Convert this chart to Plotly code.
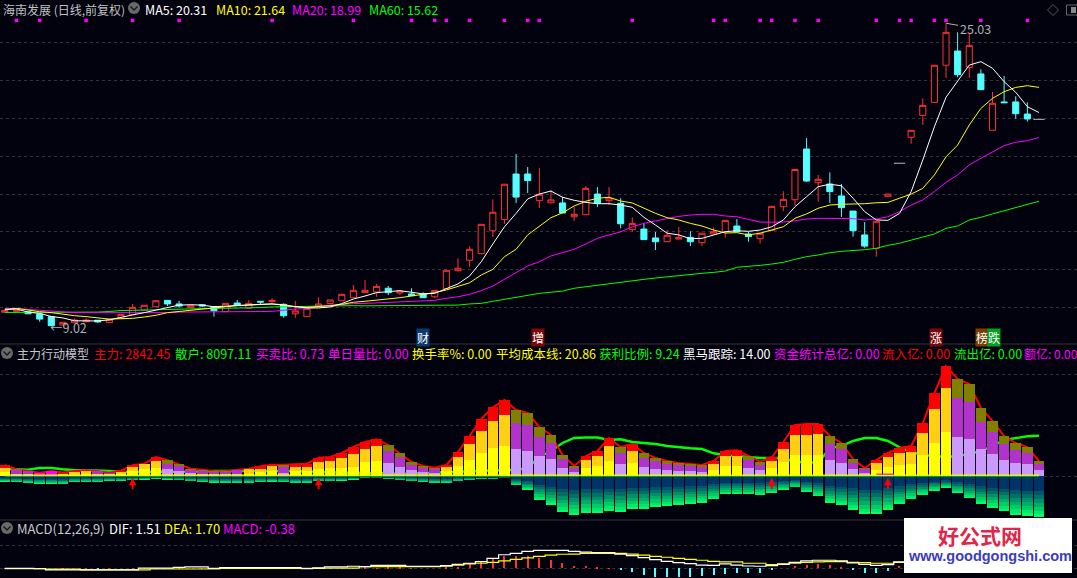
import plotly.graph_objects as go

WIDTH, HEIGHT = 1077, 578
BG = "#02020F"
RED, CYAN = "#FF3232", "#54FFFF"
LIME = "#00FF00"
GRID = "#333333"

# ---------- price panel ----------
opens = [9.75,9.80,9.78,9.66,9.52,9.08,9.20,9.25,9.33,9.20,
         9.43,9.62,9.87,10.04,10.38,10.19,10.01,10.15,10.05,9.78,
         10.24,9.96,10.33,10.31,10.17,9.67,9.52,10.07,10.22,10.36,
         10.52,10.79,10.82,11.02,10.77,10.72,10.72,10.57,11.00,11.95,
         12.50,12.85,14.06,14.65,17.06,17.06,15.65,15.54,15.53,14.80,
         14.91,16.00,15.65,15.51,14.12,14.15,13.68,13.48,13.62,13.71,
         13.43,13.89,14.01,14.31,13.89,13.64,14.08,15.33,15.70,18.38,
         16.60,16.53,15.90,15.10,13.84,13.13,15.88,17.63,19.00,20.16,
         20.85,22.81,23.56,22.70,22.35,19.37,20.87,20.87,20.23,19.95]
highs = [9.85,9.90,9.78,9.66,9.55,9.22,9.43,9.43,9.33,9.38,
         9.64,10.19,10.12,10.36,10.38,10.35,10.12,10.15,10.05,10.22,
         10.40,10.40,10.33,10.50,10.22,10.35,9.96,10.54,10.40,10.70,
         11.19,11.46,11.25,11.14,10.93,11.02,10.81,10.91,11.97,12.60,
         13.24,14.40,15.72,16.52,18.12,17.43,17.38,16.21,15.86,15.33,
         16.43,16.37,16.37,15.78,14.77,14.42,13.99,14.10,14.26,14.03,
         13.93,14.24,14.61,14.68,14.01,13.93,15.35,16.15,17.30,18.96,
         17.01,17.15,16.53,15.10,14.52,14.56,16.00,17.63,19.37,21.06,
         22.81,25.03,24.55,24.53,22.60,21.40,22.24,21.17,20.85,19.95]
lows = [9.75,9.78,9.67,9.25,9.02,9.06,9.20,9.25,9.20,9.20,
        9.43,9.62,9.82,10.04,10.08,9.99,10.01,10.03,9.52,9.78,
        10.12,9.96,10.13,10.26,9.46,9.46,9.52,10.07,10.22,10.36,
        10.52,10.79,10.57,10.66,10.66,10.63,10.52,10.50,11.00,11.90,
        12.14,12.85,13.73,14.42,15.53,16.06,15.26,15.51,15.00,14.58,
        14.91,15.32,15.42,14.19,14.01,13.59,13.04,13.48,13.62,13.25,
        13.25,13.89,13.69,14.01,13.48,13.38,14.05,15.10,15.39,16.64,
        15.60,15.53,14.79,13.75,13.16,12.69,15.88,17.63,18.66,19.65,
        20.85,22.14,22.17,22.14,21.52,19.37,20.83,19.98,19.83,19.95]
closes = [9.85,9.87,9.67,9.39,9.04,9.22,9.34,9.34,9.24,9.38,
          9.64,10.01,10.12,10.36,10.19,10.08,10.12,10.08,9.83,10.22,
          10.12,10.22,10.29,10.38,9.57,9.82,9.96,10.19,10.40,10.70,
          10.91,10.91,11.12,10.79,10.87,10.63,10.52,10.91,11.97,12.08,
          13.08,14.40,15.04,16.52,15.84,16.71,15.99,15.69,15.00,14.93,
          16.30,15.51,15.79,14.43,14.45,13.59,13.48,13.82,13.71,13.48,
          13.93,14.01,14.61,14.01,13.75,13.93,15.35,15.72,17.30,16.69,
          16.78,16.13,15.28,14.06,13.25,14.56,16.00,17.63,19.37,20.69,
          22.81,24.55,22.31,23.86,21.52,20.80,20.83,20.25,19.97,19.95]
ma5 = [9.91,9.92,9.76,9.69,9.53,9.45,9.30,9.29,9.29,9.35,
       9.46,9.61,9.73,9.87,10.03,10.13,10.15,10.13,10.04,10.08,
       10.10,10.13,10.17,10.19,10.13,10.03,9.98,9.98,10.03,10.21,
       10.45,10.61,10.79,10.84,10.89,10.81,10.72,10.75,11.02,11.25,
       11.67,12.42,13.36,14.27,14.98,15.74,16.00,16.16,15.83,15.67,
       15.56,15.49,15.49,15.42,15.30,14.77,14.36,13.93,13.84,13.64,
       13.66,13.84,14.01,14.06,14.03,14.10,14.27,14.63,15.33,15.86,
       16.39,16.52,16.44,15.78,15.07,14.63,14.61,14.98,16.13,17.80,
       19.56,21.12,21.94,22.82,23.00,22.65,21.94,21.38,20.62,20.31]
ma10 = [9.87,9.96,9.87,9.78,9.73,9.64,9.57,9.52,9.46,9.39,
        9.41,9.43,9.50,9.59,9.73,9.80,9.87,9.92,9.98,10.04,
        10.10,10.12,10.17,10.19,10.15,10.04,10.01,10.04,10.10,10.17,
        10.28,10.33,10.38,10.44,10.52,10.61,10.70,10.79,10.93,11.10,
        11.31,11.72,12.02,12.69,13.08,13.84,14.31,14.75,15.01,15.37,
        15.62,15.78,15.83,15.63,15.53,15.25,14.98,14.75,14.63,14.45,
        14.31,14.10,13.94,13.96,13.84,13.93,14.10,14.27,14.72,14.95,
        15.25,15.42,15.46,15.46,15.49,15.54,15.56,15.78,16.00,16.30,
        17.01,17.97,18.59,19.65,20.53,21.06,21.41,21.64,21.73,21.64]
ma20 = [9.95,9.95,9.90,9.85,9.82,9.78,9.73,9.73,9.73,9.71,
        9.71,9.70,9.70,9.71,9.73,9.76,9.76,9.76,9.76,9.76,
        9.76,9.79,9.79,9.80,9.87,9.92,9.95,10.03,10.13,10.15,
        10.21,10.22,10.24,10.28,10.29,10.31,10.35,10.38,10.49,10.57,
        10.70,10.89,11.14,11.49,11.81,12.20,12.42,12.73,12.90,13.08,
        13.36,13.66,13.84,14.00,14.27,14.45,14.58,14.72,14.82,14.89,
        14.93,14.93,14.84,14.80,14.68,14.52,14.51,14.52,14.59,14.68,
        14.72,14.72,14.72,14.70,14.63,14.68,14.80,15.07,15.42,15.69,
        16.13,16.62,17.01,17.54,17.89,18.24,18.56,18.74,18.82,18.99]
ma60 = [9.74,9.74,9.76,9.76,9.76,9.76,9.76,9.76,9.76,9.79,
        9.84,9.85,9.87,9.90,9.91,9.92,9.94,9.96,9.96,9.96,
        9.96,9.98,10.00,10.03,10.03,10.03,10.06,10.08,10.10,10.10,
        10.10,10.09,10.09,10.09,10.09,10.09,10.09,10.09,10.10,10.13,
        10.19,10.22,10.33,10.44,10.54,10.66,10.75,10.81,10.87,11.02,
        11.10,11.18,11.28,11.37,11.44,11.49,11.56,11.63,11.68,11.76,
        11.81,11.86,11.93,12.13,12.16,12.23,12.30,12.39,12.55,12.69,
        12.78,12.90,12.97,13.00,13.06,13.13,13.29,13.40,13.57,13.71,
        13.89,14.19,14.31,14.63,14.77,14.95,15.12,15.25,15.42,15.62]
signal_days = [1,3,7,11,15,23,30,35,37,38,40,43,45,46,54,61,62,65,66,68,70,75,77,78,80,81,84,88]
signal_level = 25.18
price_grid = [10,12,14,16,18,20,22,24]

# ---------- main-force panel ----------
stack_kind = [0,1,1,2,2,0,0,0,1,1,
              0,0,0,0,1,1,1,1,1,1,
              1,0,0,0,1,0,0,0,0,0,
              0,0,0,1,1,1,1,1,0,0,
              0,0,0,0,1,1,1,1,1,1,
              0,0,0,1,0,1,1,1,1,1,
              1,0,0,0,1,1,0,0,0,0,
              0,1,1,1,1,0,0,0,0,0,
              0,0,1,1,1,1,1,1,1,1]
stack_low = [4,2.3,2.3,3.3,5,0.7,0.7,1.3,2.3,1.7,
             1.7,4.7,6.7,8,6.7,5,3,2.3,1.7,1.7,
             1.7,2.3,4,5,3.3,5,5,6.7,8.3,8.3,
             9,14,15,13,9,6,3.7,2.7,5,10,
             16,23,28,30,27,25,20,17,8,4,
             8,10,15,12,13,9,7,6,5,5,
             4,6,10,10,8,6,8,14,21,21,
             21,16,13,7,2.7,6,9,11,12,21,
             33,44,39,37,27,22,16,13,12,6]
stack_mid = [8.3,6,5,3.3,5,1.7,3.7,4.7,4.7,3.3,
             4,9,11.7,15,12.3,10,6.3,5,4,4.3,
             5.7,7,7.3,9.7,9,9,9,14,15,18.3,
             22.3,27,30,25,18.7,10.7,8,7.3,8.7,19,
             32,45,55,61,52.7,50.7,39,33,17,8,
             16,20,30,22.7,25,18,15,12,11,10,
             9,12,20,20,16,10.7,15,27,41,41,
             42,32,27,13,7,13,19,23,24,43,
             67,88,78,74,54,44,32,26,23,12]
stack_top = [10.7,6.7,5,3.3,5,3.5,5,5.7,4.7,3.3,
             5.3,10.7,12.3,19,15.7,11.7,7.3,6.3,4.7,4.7,
             6,7.3,9.7,11.3,11.3,11.7,12.3,18.3,19,23,
             29,34,36.7,31,22.7,14,10,8.3,11,24,
             40,57,68.7,76,66,63,49,41,21,10,
             20,25,38,29,32,23,18,15,13,12,
             11,15,25,25.7,20,14.3,18.7,34,51,52,
             52,40,33,17,8,16,23,28,30,53,
             83,110,97,92,68,55,40,33,29,15]
retail_line = [7,6.7,6.3,8,8,6.7,5.7,5.7,5.7,5,
               4,4,4,4,4,4,4,4.5,5,5,
               5.5,5.5,5,5,5,5,4.5,4,4,3.5,
               3,3,3,2.5,2,2.5,2.5,3,4,4,
               5,5,6,6,6,8,19,25,33,38,
               38.5,38.5,36,36.7,34,33,32,30,28.7,27.7,
               27,22.7,21,20,19,18,18,18,14,14,
               13,28,30,35,38,38,35,28.7,24,21,
               20,19,20,22,25,30,36,37.7,39.7,40.3]
retail_depth = [5.7,6,7,8,8,8.3,6.3,6.3,6.3,5,
                5,4.3,3.7,2.7,3.7,4.3,5.3,6.3,6.7,7,
                7,7.3,6,5.7,6.3,7,7,5.3,5.3,4.7,
                3.7,1.7,2,3.3,4.3,5.3,6.3,7,7,5.3,
                4.3,3.3,3.3,2.3,9.3,14.3,24.3,29.3,36.3,39.3,
                37.3,37.3,35.3,36.3,33.3,33.3,31.3,30.3,29.3,28.3,
                27.3,23.3,18.3,18.3,18.3,19.3,17.3,14.3,11.3,16.3,
                20.3,27.3,29.3,34.3,38.3,38.3,34.3,28.3,23.3,19.3,
                15.3,12.3,17.3,22.3,28.3,32.3,35.3,39.3,40.3,41.3]
buy_days = [11,27,66,76]
model_grid = [0,51,102]

# ---------- MACD panel ----------
dif = [0,0,0,-.04,-.14,-.14,-.14,-.14,-.14,-.14,
       -.14,-.14,.02,.02,.02,.08,.12,.12,0,.06,
       .06,.06,.06,.06,.06,.06,-.02,.04,.12,.12,
       .18,.14,.26,.26,.26,.18,.18,.18,.24,.34,
       .44,.58,.86,1.18,1.30,1.48,1.56,1.56,1.56,1.48,
       1.40,1.36,1.36,1.24,1.10,.92,.76,.60,.50,.40,
       .28,.26,.38,.28,.20,.18,.24,.34,.52,.64,
       .70,.70,.64,.46,.34,.26,.32,.56,.90,1.20,
       1.50,1.75,1.90,2.00,1.95,1.85,1.75,1.65,1.58,1.51]
dea = [-.02,-.02,-.02,-.02,-.08,-.08,-.08,-.14,-.14,-.14,
       -.14,-.14,-.14,-.06,-.06,-.06,-.06,-.06,-.06,0,
       0,0,0,0,0,0,0,0,.02,.02,
       .02,.14,.14,.14,.14,.14,.14,.14,.18,.28,
       .38,.44,.52,.64,.78,.90,1.04,1.14,1.22,1.24,
       1.30,1.30,1.30,1.30,1.24,1.14,1.04,.96,.86,.78,
       .70,.60,.56,.56,.44,.44,.32,.38,.44,.52,
       .56,.58,.58,.52,.50,.44,.44,.52,.60,.72,
       .88,1.05,1.20,1.35,1.48,1.56,1.62,1.66,1.69,1.70]
macd = [.02,0,-.02,-.02,0,.02,0,.02,-.02,.02,
        0,.02,0,.02,0,.02,0,.02,.02,.02,
        0,.02,.02,-.02,.02,.02,0,.02,.02,.02,
        .02,.06,.02,.04,.04,.02,0,0,.04,.14,
        .38,.58,.80,1.10,1.06,1.10,.90,.72,.46,.20,
        .20,.12,.02,-.08,-.28,-.58,-.78,-.78,-.78,-.78,
        -.66,-.58,-.50,-.38,-.38,-.38,-.08,0,.20,.28,
        .34,.28,.12,-.14,-.38,-.38,-.20,.20,.50,.90,
        1.20,1.40,1.40,1.30,.90,.50,.20,0,-.20,-.38]
macd_grid = [0,2]

# ---------- legend text ----------
title_stock = "海南发展 (日线,前复权)"
legend_top = [("MA5: 20.31", 145, "#FFFFFF"), ("MA10: 21.64", 216, "#FFFF00"),
              ("MA20: 18.99", 292, "#FF00FF"), ("MA60: 15.62", 369, "#00FF00")]
legend_model = [("主力: 2842.45", 94, "#FF0000"), ("散户: 8097.11", 175, "#00FF00"),
                ("买卖比: 0.73", 256, "#FF00FF"), ("单日量比: 0.00", 328, "#FF00FF"),
                ("换手率%: 0.00", 412, "#FFFF00"), ("平均成本线: 20.86", 496, "#FFFF00"),
                ("获利比例: 9.24", 599, "#00FF00"), ("黑马跟踪: 14.00", 683, "#FFFFFF"),
                ("资金统计总亿: 0.00", 774, "#FF00FF"), ("流入亿: 0.00", 882, "#FF0000"),
                ("流出亿: 0.00", 954, "#00FF00")]
legend_last = ("额亿: 0.00", 1024, "#FF00FF")
legend_macd = [("MACD(12,26,9)", 17, "#C8C8C8"), ("DIF: 1.51", 109, "#FFFFFF"),
               ("DEA: 1.70", 164, "#FFFF00"), ("MACD: -0.38", 223, "#FF00FF")]
badges = [("财", 423, "#0B3A70"), ("增", 538, "#7A0A0A"), ("涨", 936, "#7A0A0A"),
          ("榜", 981.5, "#7A3E00"), ("跌", 994, "#00A020")]

# ---------- layout helpers ----------
def px(x): return x / WIDTH
def py(y): return 1 - y / HEIGHT
days = list(range(len(opens)))
x_range = [-4.8 / 11.62, (WIDTH - 4.8) / 11.62]
model_range = [-44, 132]
macd_range = [-9.7 / 11.5, 48.3 / 11.5]

fig = go.Figure()

# price
normal = [i for i in days if opens[i] != closes[i]]
fig.add_trace(go.Candlestick(
    x=normal, open=[opens[i] for i in normal], high=[highs[i] for i in normal],
    low=[lows[i] for i in normal], close=[closes[i] for i in normal],
    xaxis="x", yaxis="y", whiskerwidth=0,
    increasing=dict(line=dict(color=RED, width=1), fillcolor=BG),
    decreasing=dict(line=dict(color=CYAN, width=1), fillcolor=CYAN)))
flat = [i for i in days if opens[i] == closes[i]]
fig.add_trace(go.Scatter(x=flat, y=[closes[i] for i in flat], mode="markers", xaxis="x", yaxis="y",
                         marker=dict(symbol="line-ew", size=8, line=dict(color="#BBBBBB", width=1))))
for series, color in [(ma60, LIME), (ma20, "#FF00FF"), (ma10, "#FFFF00"), (ma5, "#FFFFFF")]:
    fig.add_trace(go.Scatter(x=days, y=series, mode="lines", xaxis="x", yaxis="y",
                             line=dict(color=color, width=1)))
fig.add_trace(go.Scatter(x=signal_days, y=[signal_level] * len(signal_days), mode="markers", xaxis="x", yaxis="y",
                         marker=dict(symbol="square", size=3.5, color="#FF00FF", line=dict(width=0))))

# model: lines beneath the bars
fig.add_trace(go.Scatter(x=days, y=retail_line, mode="lines", xaxis="x2", yaxis="y2",
                         line=dict(color=LIME, width=2.4)))
fig.add_trace(go.Scatter(x=days, y=stack_top, mode="lines", xaxis="x2", yaxis="y2",
                         line=dict(color="#FF0000", width=2)))
palette_low = ["#FFFF00", "#CC99FF", "#FF00FF"]
palette_mid = ["#FFD011", "#B233CC", "#FF00FF"]
palette_top = ["#FF0000", "#808000", "#FF00FF"]
BW = 0.91
for vals, pal in [(stack_top, palette_top), (stack_mid, palette_mid), (stack_low, palette_low)]:
    fig.add_trace(go.Bar(x=days, y=vals, width=BW, xaxis="x2", yaxis="y4",
                         marker=dict(color=[pal[k] for k in stack_kind], line=dict(width=0))))
bands = [(1.0, "#00FF66"), (.93, "#00E868"), (.85, "#00CC66"), (.75, "#00AD66"),
         (.65, "#008F66"), (.55, "#007066"), (.45, "#005566"), (.36, "#003366")]
for frac, color in bands:
    fig.add_trace(go.Bar(x=days, y=[-d * frac for d in retail_depth], width=BW, xaxis="x2", yaxis="y4",
                         marker=dict(color=color, line=dict(width=0))))
# model: baseline above the bars
fig.add_trace(go.Scatter(x=days, y=[0] * len(days), mode="lines", xaxis="x2", yaxis="y5",
                         line=dict(color=LIME, width=1.2)))
fig.add_trace(go.Scatter(x=days, y=[0.9] * len(days), mode="lines", xaxis="x2", yaxis="y5",
                         line=dict(color="#FFFF00", width=1.2)))
fig.add_trace(go.Scatter(x=[75, 76.5], y=[1.8, 1.8], mode="lines", xaxis="x2", yaxis="y5",
                         line=dict(color="#FF00FF", width=1.2)))

# MACD
fig.add_trace(go.Bar(x=days, y=macd, width=0.1, xaxis="x3", yaxis="y3",
                     marker=dict(color=[RED if v >= 0 else CYAN for v in macd], line=dict(width=0))))
fig.add_trace(go.Scatter(x=days, y=dea, mode="lines", xaxis="x3", yaxis="y3", line=dict(color="#FFFF00", width=1.2, shape="hvh")))
fig.add_trace(go.Scatter(x=days, y=dif, mode="lines", xaxis="x3", yaxis="y3", line=dict(color="#FFFFFF", width=1.2, shape="hvh")))

shapes, ann = [], []

def label(text, x, y, color, size=12.5, anchor="left", **kw):
    offset = 2 if anchor == "left" else 0
    ann.append(dict(text=text, x=px(x - offset), y=py(y), xref="paper", yref="paper", showarrow=False, xanchor=anchor,
                    yanchor="middle", font=dict(family="Noto Sans CJK SC, Noto Sans", size=size, color=color), **kw))

def chevron(cx, cy):
    shapes.append(dict(type="circle", xref="paper", yref="paper", x0=px(cx - 6), x1=px(cx + 6), y0=py(cy + 6), y1=py(cy - 6),
                       fillcolor="#6A6A6A", line=dict(width=0)))
    shapes.append(dict(type="path", xref="paper", yref="paper",
                       path=f"M {px(cx-3.5)} {py(cy-1.5)} L {px(cx)} {py(cy+2)} L {px(cx+3.5)} {py(cy-1.5)}",
                       line=dict(color="#1A1A1A", width=1.5)))

for y in (344, 520):
    shapes.append(dict(type="line", xref="paper", yref="paper", x0=0, x1=1, y0=py(y), y1=py(y),
                       line=dict(color="#333333", width=1)))
chevron(134, 8); chevron(7, 353); chevron(7, 528)
shapes.append(dict(type="path", xref="paper", yref="paper",
                   path=f"M {px(1053)} {py(4.5)} L {px(1058.5)} {py(10)} L {px(1053)} {py(15.5)} L {px(1047.5)} {py(10)} Z",
                   line=dict(color="#555555", width=1)))
shapes.append(dict(type="rect", xref="paper", yref="paper", x0=px(1066.5), x1=px(1080), y0=py(15), y1=py(5),
                   line=dict(color="#666666", width=1)))
shapes.append(dict(type="rect", xref="paper", yref="paper", x0=px(1071), x1=px(1076), y0=py(13), y1=py(7),
                   fillcolor="#888888", line=dict(width=0)))
shapes.append(dict(type="rect", xref="paper", yref="paper", x0=px(904), x1=px(1072), y0=py(573), y1=py(518),
                   fillcolor="#FFFFFF", line=dict(width=0), layer="above"))

label(title_stock, 3, 9, "#C0C0C0", size=12)
for text, x, c in legend_top:
    label(text, x, 9, c, size=12.5)
label("主力行动模型", 17, 353, "#C8C8C8", size=12)
for text, x, c in legend_model:
    label(text, x, 353, c)
label(legend_last[0], legend_last[1], 353, legend_last[2], size=12)
for text, x, c in legend_macd:
    label(text, x, 528, c, size=13)
for text, x, c in badges:
    label(text, x, 337, "#FFFFFF", size=12, anchor="center", bgcolor=c, borderpad=0)
label("←9.02", 50, 327, "#B0B0B0")
label("<b>好公式网</b>", 980, 535, "#E0264B", size=21, anchor="center")
label("<b>www.goodgongshi.com</b>", 989.5, 556, "#3C3CC0", size=14.5, anchor="center")
ann[-1]["font"]["family"] = "Liberation Sans"

ann.append(dict(text="25.03", x=81, y=25.03, xref="x", yref="y", ax=29, ay=5, axref="pixel", ayref="pixel",
                showarrow=True, arrowhead=0, arrowwidth=1, arrowcolor="#B0B0B0",
                font=dict(family="Noto Sans CJK SC", size=12.5, color="#B0B0B0")))
for d in buy_days:
    ann.append(dict(text="", x=d, y=-1.7, xref="x2", yref="y2", ax=0, ay=13, axref="pixel", ayref="pixel",
                    showarrow=True, arrowhead=2, arrowsize=0.75, arrowwidth=2, arrowcolor="#FF0000"))

hidden = dict(visible=False, range=x_range)
def gridded(rng, ticks, top, bottom):
    return dict(range=rng, domain=[1 - bottom / HEIGHT, 1 - top / HEIGHT], tickmode="array", tickvals=ticks,
                showticklabels=False, ticks="", showgrid=True, gridcolor=GRID, griddash="dot", gridwidth=1,
                zeroline=False, showline=False, fixedrange=True)

fig.update_layout(
    width=WIDTH, height=HEIGHT, margin=dict(l=0, r=0, t=0, b=0), autosize=False,
    paper_bgcolor=BG, plot_bgcolor=BG, showlegend=False, barmode="overlay", bargap=0, boxgap=0.25,
    hovermode=False, shapes=shapes, annotations=ann,
    xaxis=dict(hidden, anchor="y", rangeslider=dict(visible=False), domain=[0, 1]),
    xaxis2=dict(hidden, anchor="y2", domain=[0, 1]),
    xaxis3=dict(hidden, anchor="y3", domain=[0, 1]),
    yaxis=gridded([26.26 - 0.05287 * 344, 26.26], price_grid, 0, 344),
    yaxis2=gridded(model_range, model_grid, 344, 520),
    yaxis3=gridded(macd_range, macd_grid, 520, 578),
    yaxis4=dict(range=model_range, domain=[1 - 520 / HEIGHT, 1 - 344 / HEIGHT], overlaying="y2", visible=False),
    yaxis5=dict(range=model_range, domain=[1 - 520 / HEIGHT, 1 - 344 / HEIGHT], overlaying="y2", visible=False),
)
fig.write_html("out.html", config=dict(displayModeBar=False),
               post_script="document.body.style.margin='0';document.body.style.background='%s';" % BG)
